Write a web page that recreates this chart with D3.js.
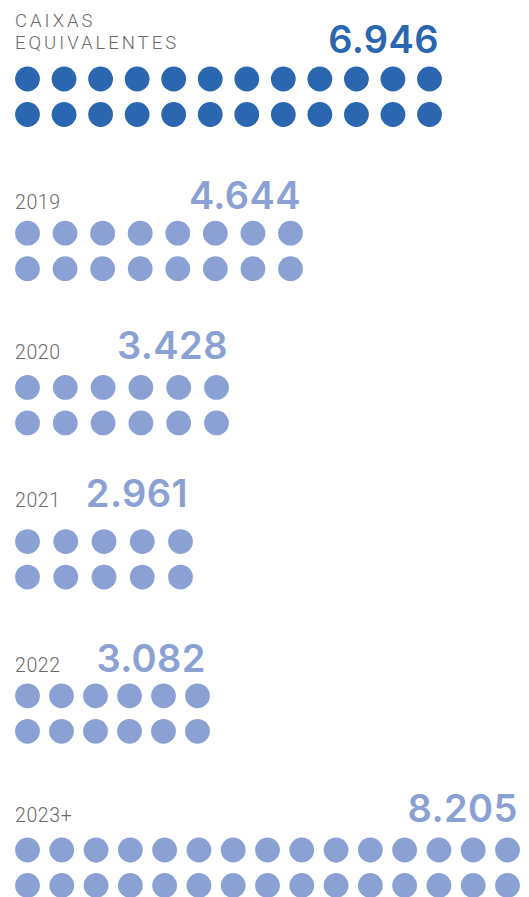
<!DOCTYPE html>
<html>
<head>
<meta charset="utf-8">
<script src="https://cdn.jsdelivr.net/npm/d3@7"></script>
<style>
  html, body { margin: 0; padding: 0; background: #fff; }
  svg { display: block; }
</style>
</head>
<body>
<svg id="chart" width="529" height="897"></svg>
<script>
// ---- data ----
const categories = ["CAIXAS EQUIVALENTES", "2019", "2020", "2021", "2022", "2023+"];
const labelLines = [["CAIXAS", "EQUIVALENTES"], ["2019"], ["2020"], ["2021"], ["2022"], ["2023+"]];
const values = [6946, 4644, 3428, 2961, 3082, 8205];
const dotsPerRow = [12, 8, 6, 5, 6, 15];
const rowsPerGroup = ["a", "b"];

// ---- layout (not data) ----
const firstDotX = 27.5;
const lastDotX = [429.5, 290.5, 216.5, 180.5, 197.5, 507.5];
const labelGap = [26, 24, 28, 35, 24, 28]; // baseline offset above first dot row
const valueEndOffset = [-3, -2, -1, -5, -4, -2];
const r = 12.4;

const dark = "#2b67b1", light = "#8ba1d4", grey = "#6a6a6a";

const ptBR = d3.formatLocale({decimal: ",", thousands: ".", grouping: [3], currency: ["R$", ""]});
const fmt = ptBR.format(",d");

const svg = d3.select("#chart");

const yGroup = d3.scalePoint().domain(categories).range([79, 850]);
const yRow = d3.scalePoint().domain(rowsPerGroup).range([0, 35.5]);

categories.forEach((cat, i) => {
  const color = i === 0 ? dark : light;
  const g = svg.append("g").attr("class", "group");
  const x = d3.scalePoint().domain(d3.range(dotsPerRow[i])).range([firstDotX, lastDotX[i]]);
  const y0 = yGroup(cat);

  const cells = [];
  rowsPerGroup.forEach(rw => d3.range(dotsPerRow[i]).forEach(k => cells.push({rw, k})));
  g.selectAll("circle").data(cells).join("circle")
    .attr("cx", d => x(d.k))
    .attr("cy", d => y0 + yRow(d.rw))
    .attr("r", r)
    .attr("fill", color);

  const base = y0 - labelGap[i];
  const lines = labelLines[i];
  lines.forEach((ln, j) => {
    g.append("text")
      .attr("x", 15)
      .attr("y", i === 0 ? base - 4.5 - (lines.length - 1 - j) * 22 : base)
      .attr("font-family", "Roboto, sans-serif")
      .attr("font-weight", 300)
      .attr("fill", grey)
      .attr("font-size", i === 0 ? 18.5 : 19.5)
      .attr("letter-spacing", i === 0 ? 3 : 0.6)
      .text(ln);
  });

  g.append("text")
    .attr("x", lastDotX[i] + r + valueEndOffset[i])
    .attr("y", base)
    .attr("text-anchor", "end")
    .attr("font-family", "Inter, sans-serif")
    .attr("font-weight", 600)
    .attr("font-size", 38)
    .attr("letter-spacing", 0.4)
    .attr("fill", color)
    .text(fmt(values[i]));
});
</script>
</body>
</html>
